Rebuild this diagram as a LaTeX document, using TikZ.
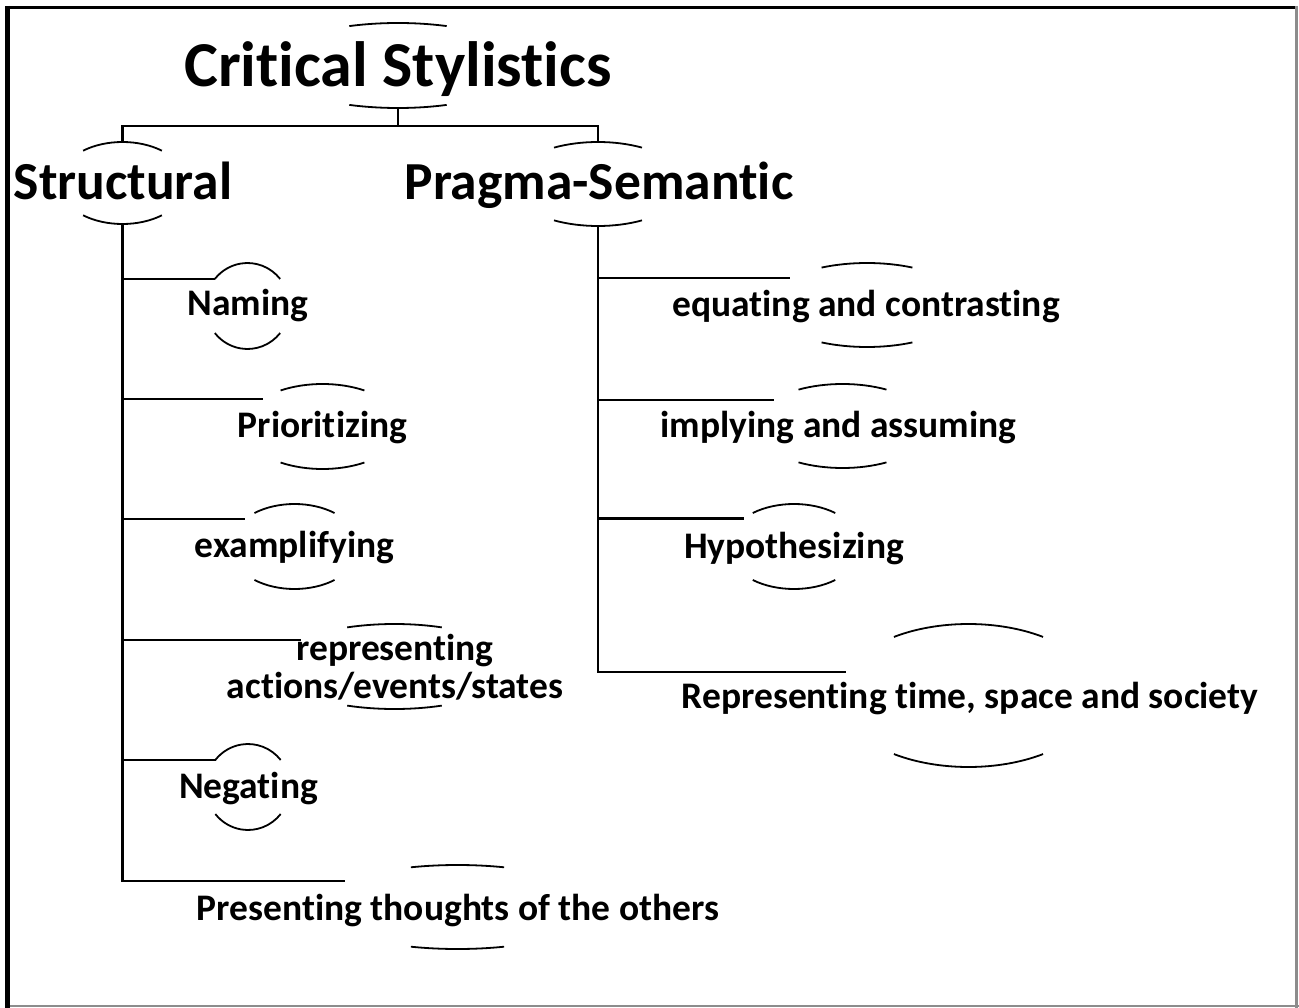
\documentclass[tikz,border=0pt]{standalone}
\usepackage{fontspec}
\setmainfont{Carlito}[Ligatures=NoCommon, Contextuals=NoAlternate]
\usetikzlibrary{shapes.geometric, calc}

\tikzstyle{oval} = [ellipse, draw=none, inner sep=0pt, outer sep=0pt]
\tikzstyle{titletext} = [font=\fontsize{64}{70}\selectfont\bfseries, inner sep=0pt, anchor=base]
\tikzstyle{heading} = [font=\fontsize{53.5}{60}\selectfont\bfseries, inner sep=0pt, anchor=base]
\tikzstyle{item} = [font=\fontsize{37.5}{38}\selectfont\bfseries, inner sep=0pt, anchor=base, align=center]
\tikzstyle{link} = [line width=2.2pt]
\tikzstyle{rim} = [line width=1.8pt]

% top and bottom pieces of an oval: node, x radius, y radius, angle
\newcommand{\rims}[4]{%
  \draw[rim] (#1.center) ++(#4:#2 and #3) arc[start angle=#4, end angle=180-#4, x radius=#2, y radius=#3];
  \draw[rim] (#1.center) ++(-#4:#2 and #3) arc[start angle=-#4, end angle=#4-180, x radius=#2, y radius=#3];}

\begin{document}
\begin{tikzpicture}[x=1pt, y=-1pt]
  \useasboundingbox (0,0) rectangle (1299,1008);
  \fill[white] (0,0) rectangle (1299,1008);
  % frame
  \draw[line width=3pt] (5,7.5) -- (1296,7.5);
  \draw[line width=5pt] (7.5,6) -- (7.5,1008);
  \draw[line width=3pt, black!45] (1296.5,6) -- (1296.5,1008);
  \draw[line width=2pt, black!45] (10,1006) -- (1299,1006);

  % ovals
  \node (title) [oval, minimum width=260pt, minimum height=85pt] at (398,65.5) {};
  \node (structural) [oval, minimum width=128pt, minimum height=82pt] at (122.5,183) {};
  \node (pragma) [oval, minimum width=176pt, minimum height=84pt] at (598,184) {};
  \node (naming) [oval, minimum width=84pt, minimum height=86pt] at (247.5,306) {};
  \node (prioritizing) [oval, minimum width=158pt, minimum height=85pt] at (322.5,426.5) {};
  \node (examplifying) [oval, minimum width=130pt, minimum height=85pt] at (294.5,546.5) {};
  \node (representing) [oval, minimum width=242pt, minimum height=85pt] at (394.5,666.5) {};
  \node (negating) [oval, minimum width=84pt, minimum height=86pt] at (248,787) {};
  \node (presenting) [oval, minimum width=286pt, minimum height=84pt] at (457.5,907) {};
  \node (equating) [oval, minimum width=200pt, minimum height=84pt] at (867,305) {};
  \node (implying) [oval, minimum width=176pt, minimum height=84pt] at (842.5,426) {};
  \node (hypothesizing) [oval, minimum width=134pt, minimum height=85pt] at (794,546.5) {};
  \node (reptime) [oval, minimum width=260pt, minimum height=143pt] at (968.5,695.5) {};

  % texts
  \node (title-t) [titletext] at (398,87) {Critical Stylistics};
  \node (structural-t) [heading] at (123,200) {Structural};
  \node (pragma-t) [heading] at (599,200) {Pragma-Semantic};
  \node (naming-t) [item] at (248,316) {Naming};
  \node (prioritizing-t) [item] at (322.5,437) {Prioritizing};
  \node (examplifying-t) [item] at (294.5,557) {examplifying};
  \node (representing-t) [item] at (395,698) {representing\\actions/events/states};
  \node (negating-t) [item] at (248.5,798) {Negating};
  \node (presenting-t) [item] at (458,920) {Presenting thoughts of the others};
  \node (equating-t) [item] at (866,317) {equating and contrasting};
  \node (implying-t) [item] at (838.5,437) {implying and assuming};
  \node (hypothesizing-t) [item] at (794,558) {Hypothesizing};
  \node (reptime-t) [item] at (970,708) {Representing time, space and society};

  % rims
  \rims{title}{130pt}{42.5pt}{68}
  \rims{structural}{64pt}{41pt}{52}
  \rims{pragma}{88pt}{42pt}{60}
  \rims{naming}{42pt}{43pt}{39}
  \rims{prioritizing}{79pt}{42.5pt}{58}
  \rims{examplifying}{65pt}{42.5pt}{52}
  \rims{representing}{121pt}{42.5pt}{67}
  \rims{negating}{42pt}{43pt}{39}
  \rims{presenting}{143pt}{42pt}{71}
  \rims{equating}{100pt}{42pt}{63}
  \rims{implying}{88pt}{42pt}{60}
  \rims{hypothesizing}{67pt}{42.5pt}{52}
  \rims{reptime}{130pt}{71.5pt}{55}

  % connectors
  \draw[link] (title.south) -- ++(0,18) -| (structural.north);
  \draw[link] (title.south) -- ++(0,18) -| (pragma.north);
  \draw[link] (structural.south) |- (naming.140);
  \draw[link] (structural.south) |- (prioritizing.155.5);
  \draw[link] (structural.south) |- (examplifying.151);
  \draw[link] (structural.south) |- (representing.164.3);
  \draw[link] (structural.south) |- (negating.140);
  \draw[link] (structural.south) |- (presenting.167);
  \draw[link] (pragma.south) |- (equating.161.7);
  \draw[link] (pragma.south) |- (implying.159.4);
  \draw[link] (pragma.south) |- (hypothesizing.151.7);
  \draw[link] (pragma.south) |- (reptime.169.7);
\end{tikzpicture}
\end{document}
